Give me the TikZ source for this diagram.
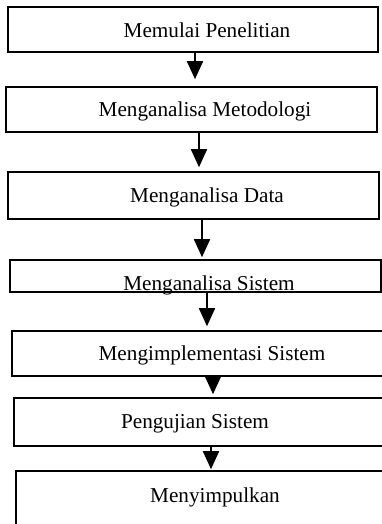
\documentclass[tikz,border=0pt]{standalone}
\usepackage{fontspec}
\setmainfont{Liberation Serif}
\usetikzlibrary{arrows.meta}
\begin{document}
\begin{tikzpicture}[x=1pt,y=-1pt,
  box/.style={draw=black, line width=1.6pt, rectangle, inner sep=0pt, fill=none},
  lbl/.style={anchor=base, inner sep=0pt, font=\fontsize{21.2}{24}\selectfont},
  arr/.style={line width=1.8pt, -{Triangle[width=16pt,length=18pt]}}]
\useasboundingbox (0,0) rectangle (382,524);
\fill[white] (0,0) rectangle (382,524);
\clip (0,0) rectangle (382,524);
% boxes
\node[box, minimum width=370pt, minimum height=45pt] (b1) at (193,29.5) {};
\node[box, minimum width=371pt, minimum height=45pt] (b2) at (191.5,109.5) {};
\node[box, minimum width=371pt, minimum height=47pt] (b3) at (193.5,195.5) {};
\node[box, minimum width=371pt, minimum height=32pt] (b4) at (195.5,276) {};
\node[box, minimum width=388pt, minimum height=45pt] (b5) at (206,353.5) {};
\node[box, minimum width=386pt, minimum height=48pt] (b6) at (207,422) {};
\node[box, minimum width=384pt, minimum height=70pt] (b7) at (208,506) {};
% labels
\node[lbl] (t1) at (207,38) {Memulai Penelitian};
\node[lbl] (t2) at (205,117) {Menganalisa Metodologi};
\node[lbl] (t3) at (207,202) {Menganalisa Data};
\node[lbl] (t4) at (209,290) {Menganalisa Sistem};
\node[lbl] (t5) at (212,360) {Mengimplementasi Sistem};
\node[lbl] (t6) at (195,428) {Pengujian Sistem};
\node[lbl] (t7) at (215,502) {Menyimpulkan};
% arrow x positions
\coordinate (x1) at (195,0);
\coordinate (x2) at (199,0);
\coordinate (x3) at (202,0);
\coordinate (x4) at (207,0);
\coordinate (x5) at (213,0);
\coordinate (x6) at (211,0);
% connectors
\draw[arr, shorten >=7pt] (b1.south -| x1) -- (b2.north -| x1);
\draw[arr, shorten >=4pt] (b2.south -| x2) -- (b3.north -| x2);
\draw[arr, shorten >=2pt] (b3.south -| x3) -- (b4.north -| x3);
\draw[arr, shorten >=4pt] (b4.south -| x4) -- (b5.north -| x4);
\draw[arr, shorten >=3pt] (b5.south -| x5) -- (b6.north -| x5);
\draw[arr, shorten >=1pt] (b6.south -| x6) -- (b7.north -| x6);
\end{tikzpicture}
\end{document}
